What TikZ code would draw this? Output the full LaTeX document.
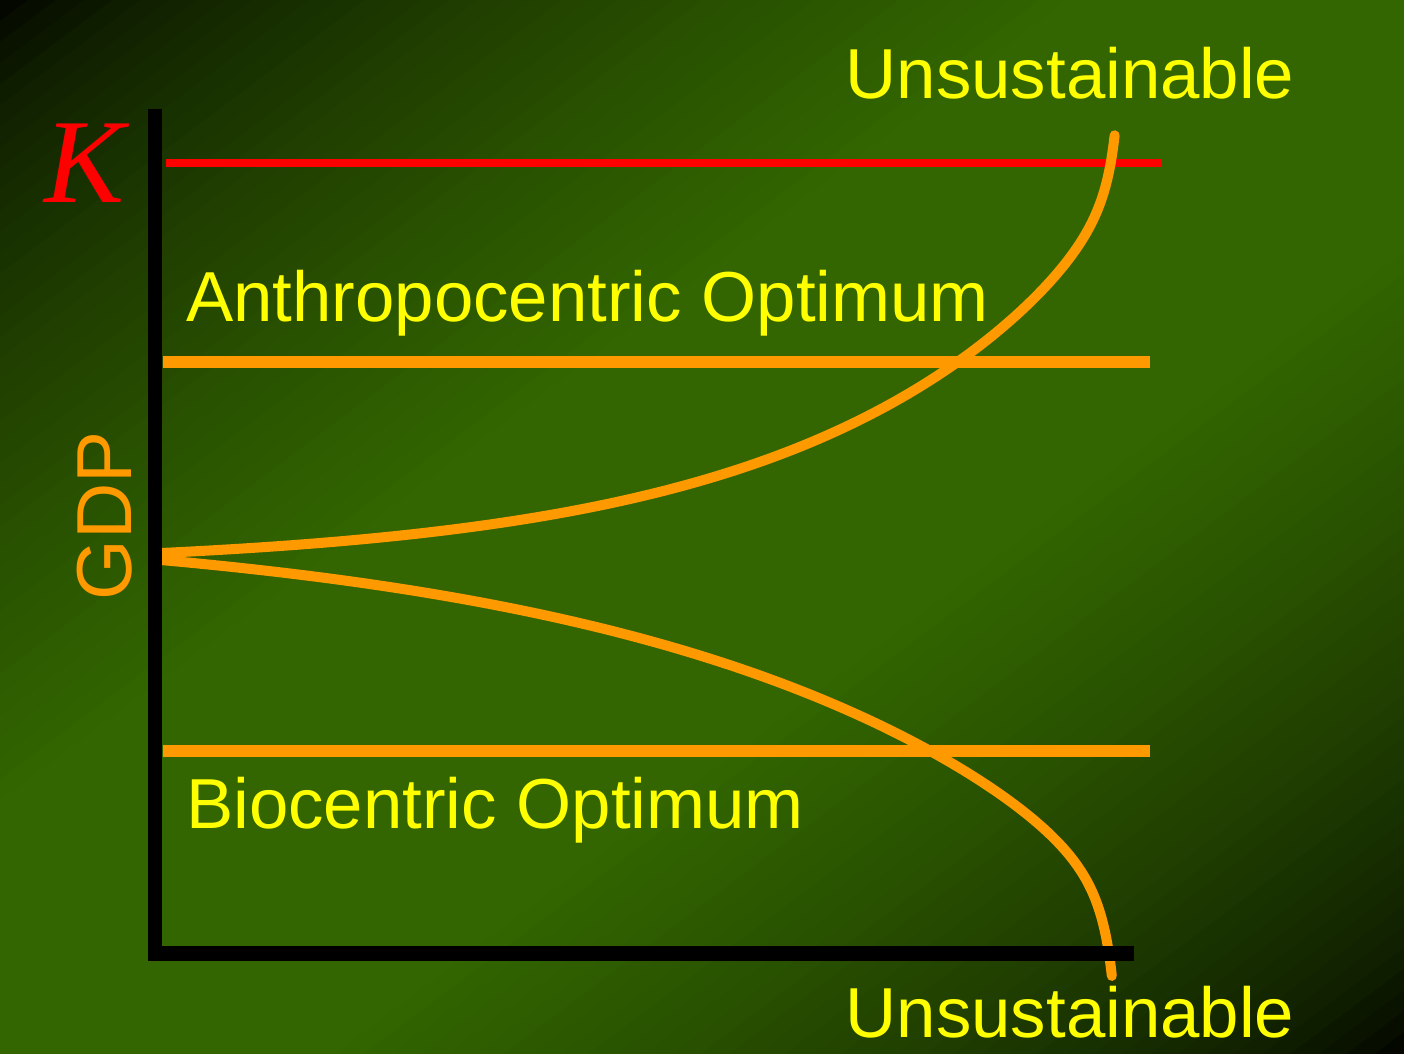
\documentclass[tikz,border=0pt]{standalone}
\usepackage{fontspec}
\setmainfont{Liberation Sans}
\newfontfamily\kfont{Liberation Serif}
\definecolor{gbright}{RGB}{51,102,0}
\definecolor{curveor}{RGB}{255,153,0}
\definecolor{labely}{RGB}{255,255,0}
\definecolor{kred}{RGB}{255,0,0}
\tikzset{
  axisline/.style={line width=14.5pt, black},
  optline/.style={line width=12pt, curveor},
  curveline/.style={line width=10pt, curveor, line cap=round},
  biglabel/.style={inner sep=0pt, anchor=base west, text=labely, font=\fontsize{70.8}{85}\selectfont},
  declare function={
    dU(\t)=953.6*(1-(1-\t)^2);
    hU(\d)=14.0*(exp(\d/300)-1)+1200/(966-\d)-1200/966;
    dL(\t)=950.8*(1-(1-\t)^2);
    gL(\d)=38.8*(exp(\d/440)-1)+1700/(965-\d)-1700/965;
  },
}
\begin{document}
\begin{tikzpicture}[x=1pt,y=-1pt]
\useasboundingbox (0,0) rectangle (1404,1053);
% background gradient: dark corners top-left and bottom-right, green along anti-diagonal
\begin{scope}
\clip (0,0) rectangle (1404,1053);
\fill[black] (0,0) rectangle (1404,1053);
\foreach \i in {0,...,99}{
  \pgfmathsetmacro{\ca}{\i/50}
  \pgfmathsetmacro{\cb}{(\i+1.6)/50}
  \pgfmathsetmacro{\um}{(\i+0.5)/50}
  \pgfmathsetmacro{\vv}{min(\um,2-\um)}
  \pgfmathtruncatemacro{\pp}{100*(min(1,\vv*1.3))^0.6}
  \fill[gbright!\pp!black]
    ({\ca*1404+2*1404},-2106) -- ({\ca*1404-3*1404},3159) --
    ({\cb*1404-3*1404},3159) -- ({\cb*1404+2*1404},-2106) -- cycle;
}
\end{scope}
% reference lines
\draw[line width=8pt, kred] (166,163) coordinate (kA) -- (1162,163) coordinate (kB);
\draw[optline] (163,362) coordinate (aA) -- (1150,362) coordinate (aB);
\draw[optline] (163,751) coordinate (bA) -- (1150,751) coordinate (bB);
% curves
\draw[curveline] plot[domain=0:1, samples=200, variable=\t] ({161+dU(\t)}, {553-hU(dU(\t))});
\draw[curveline] plot[domain=0:1, samples=200, variable=\t] ({161+dL(\t)}, {560+gL(dL(\t))});
% axes
\coordinate (origin) at (155,953.5);
\draw[axisline] (155,109) -- (155,961);
\draw[axisline] (148,953.5) -- (1134,953.5);
% labels
\node[biglabel] (unsTop) at (845.5,98) {Unsustainable};
\node[biglabel] (unsBot) at (845.5,1037) {Unsustainable};
\node[biglabel] (anthro) at (186,321) {Anthropocentric Optimum};
\node[biglabel] (bio) at (186,828) {Biocentric Optimum};
\node[inner sep=0pt, anchor=base, rotate=90, text=curveor, font=\fontsize{78}{90}\selectfont] (gdp) at (131,516) {GDP};
\node[inner sep=0pt, anchor=base west, text=kred, font=\kfont\itshape\fontsize{120}{140}\selectfont] (K) at (44,202) {K};
\end{tikzpicture}
\end{document}
